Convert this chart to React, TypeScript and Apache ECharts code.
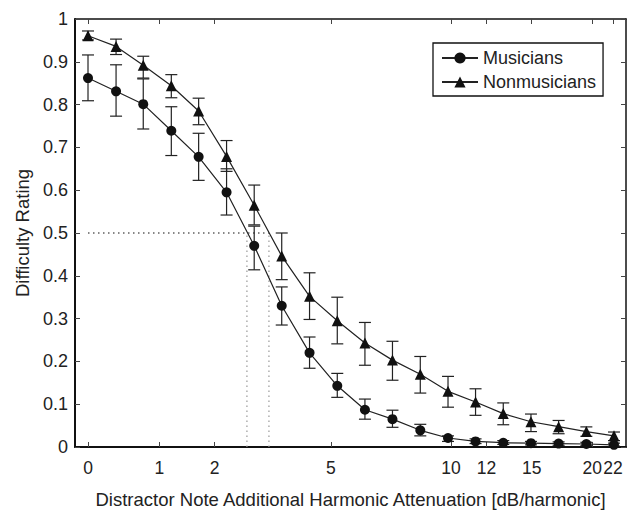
import React, { useEffect, useRef } from "react";
import * as echarts from "echarts";

// Attenuation of each stimulus step (dB/harmonic)
const attenuationDb = [0, 0.36, 0.75, 1.2, 1.69, 2.25, 2.87, 3.56, 4.34, 5.21, 6.18, 7.26, 8.48, 9.84, 11.35, 13.05, 14.95, 17.07, 19.45, 22.1];

const musiciansMean = [0.862, 0.831, 0.801, 0.739, 0.678, 0.595, 0.47, 0.33, 0.22, 0.143, 0.087, 0.065, 0.039, 0.021, 0.013, 0.01, 0.009, 0.008, 0.007, 0.005];
const musiciansLow = [0.809, 0.773, 0.743, 0.681, 0.623, 0.542, 0.414, 0.285, 0.184, 0.116, 0.065, 0.046, 0.026, 0.013, 0.008, 0.006, 0.005, 0.004, 0.003, 0.002];
const musiciansHigh = [0.916, 0.893, 0.86, 0.795, 0.733, 0.65, 0.516, 0.374, 0.257, 0.172, 0.112, 0.086, 0.053, 0.026, 0.019, 0.015, 0.013, 0.012, 0.011, 0.009];

const nonmusiciansMean = [0.961, 0.936, 0.892, 0.844, 0.785, 0.679, 0.565, 0.446, 0.352, 0.295, 0.243, 0.203, 0.17, 0.13, 0.105, 0.078, 0.059, 0.0475, 0.036, 0.026];
const nonmusiciansLow = [0.951, 0.917, 0.862, 0.816, 0.753, 0.644, 0.519, 0.391, 0.298, 0.241, 0.191, 0.156, 0.126, 0.093, 0.074, 0.052, 0.036, 0.031, 0.025, 0.015];
const nonmusiciansHigh = [0.972, 0.953, 0.913, 0.87, 0.815, 0.716, 0.612, 0.5, 0.407, 0.35, 0.291, 0.247, 0.2115, 0.165, 0.136, 0.103, 0.077, 0.062, 0.047, 0.035];

const xTickLabels = [0, 1, 2, 5, 10, 12, 15, 20, 22];
const yTickValues = [0, 0.1, 0.2, 0.3, 0.4, 0.5, 0.6, 0.7, 0.8, 0.9, 1];

// 50% thresholds (dB/harmonic)
const thresholdLevel = 0.5;
const thresholdMusicians = 2.7;
const thresholdNonmusicians = 3.23;

// axis scale: ln(x + 3)
const OFFSET = 3;
const tf = (x: number) => Math.log(x + OFFSET);
const X_MIN = 1.0461;
const X_MAX = 3.2714;

const FONT = "'Liberation Sans', Arial, Helvetica, sans-serif";

function errorBarSeries(low: number[], high: number[]) {
  return {
    type: "custom",
    silent: true,
    z: 2,
    data: attenuationDb.map((x, i) => [tf(x), low[i], high[i]]),
    encode: { x: 0, y: [1, 2] },
    renderItem: (params: any, api: any) => {
      const lo = api.coord([api.value(0), api.value(1)]);
      const hi = api.coord([api.value(0), api.value(2)]);
      const hw = 6;
      const style = { stroke: "#222", lineWidth: 1.2 };
      return {
        type: "group",
        children: [
          { type: "line", shape: { x1: lo[0], y1: lo[1], x2: hi[0], y2: hi[1] }, style },
          { type: "line", shape: { x1: lo[0] - hw, y1: lo[1], x2: lo[0] + hw, y2: lo[1] }, style },
          { type: "line", shape: { x1: hi[0] - hw, y1: hi[1], x2: hi[0] + hw, y2: hi[1] }, style },
        ],
      };
    },
  };
}

export default function App() {
  const ref = useRef<HTMLDivElement>(null);
  useEffect(() => {
    if (!ref.current) return;
    const chart = echarts.init(ref.current, null, { renderer: "svg" });
    const tickT = xTickLabels.map(tf);
    const labelFor = (v: number) => {
      let best = 0;
      let bd = Infinity;
      tickT.forEach((t, i) => {
        const d = Math.abs(t - v);
        if (d < bd) {
          bd = d;
          best = i;
        }
      });
      return String(xTickLabels[best]);
    };
    const tickStyle = { inside: true, length: 5, lineStyle: { color: "#444", width: 1 } };
    chart.setOption({
      animation: false,
      textStyle: { fontFamily: FONT },
      grid: { left: 75, top: 19, right: 7, bottom: 61, containLabel: false },
      legend: {
        data: ["Musicians", "Nonmusicians"],
        orient: "vertical",
        left: 433,
        top: 43,
        padding: [6, 7, 5, 8],
        itemWidth: 36,
        itemHeight: 14,
        itemGap: 6,
        borderColor: "#111",
        borderWidth: 1.3,
        backgroundColor: "#fff",
        textStyle: { fontFamily: FONT, fontSize: 18, color: "#222", lineHeight: 18 },
      },
      xAxis: [
        {
          type: "value",
          min: X_MIN,
          max: X_MAX,
          position: "bottom",
          name: "Distractor Note Additional Harmonic Attenuation [dB/harmonic]",
          nameLocation: "middle",
          nameGap: 43,
          nameTextStyle: { fontFamily: FONT, fontSize: 18.5, color: "#222" },
          axisLine: { show: true, onZero: false, lineStyle: { color: "#111", width: 2 } },
          axisTick: { ...tickStyle, customValues: tickT },
          axisLabel: {
            customValues: tickT,
            formatter: (v: number) => labelFor(v),
            fontFamily: FONT,
            fontSize: 17.5,
            color: "#222",
            margin: 12,
          },
          splitLine: { show: false },
        },
        {
          type: "value",
          min: X_MIN,
          max: X_MAX,
          position: "top",
          axisLine: { show: true, onZero: false, lineStyle: { color: "#111", width: 1.5 } },
          axisTick: { ...tickStyle, customValues: tickT },
          axisLabel: { show: false },
          splitLine: { show: false },
        },
      ],
      yAxis: [
        {
          type: "value",
          min: 0,
          max: 1,
          interval: 0.1,
          position: "left",
          name: "Difficulty Rating",
          nameLocation: "middle",
          nameGap: 42,
          nameTextStyle: { fontFamily: FONT, fontSize: 18.5, color: "#222" },
          axisLine: { show: true, onZero: false, lineStyle: { color: "#111", width: 2 } },
          axisTick: tickStyle,
          axisLabel: {
            fontFamily: FONT,
            fontSize: 18,
            color: "#222",
            margin: 7,
            formatter: (v: number) => {
              const m = yTickValues.find((t) => Math.abs(t - v) < 1e-6);
              return m === 0 || m === 1 ? String(m) : (m ?? v).toFixed(1);
            },
          },
          splitLine: { show: false },
        },
        {
          type: "value",
          min: 0,
          max: 1,
          interval: 0.1,
          position: "right",
          axisLine: { show: true, onZero: false, lineStyle: { color: "#111", width: 1.5 } },
          axisTick: tickStyle,
          axisLabel: { show: false },
          splitLine: { show: false },
        },
      ],
      series: [
        {
          type: "line",
          silent: true,
          symbol: "none",
          z: 1,
          lineStyle: { color: "#111", width: 1.2, type: [1.5, 3.5] },
          data: [
            [tf(0), thresholdLevel],
            [tf(thresholdNonmusicians), thresholdLevel],
          ],
        },
        {
          type: "line",
          silent: true,
          symbol: "none",
          z: 1,
          lineStyle: { color: "#999", width: 1.2, type: [1.5, 3.5] },
          data: [
            [tf(thresholdMusicians), 0],
            [tf(thresholdMusicians), thresholdLevel],
          ],
        },
        {
          type: "line",
          silent: true,
          symbol: "none",
          z: 1,
          lineStyle: { color: "#999", width: 1.2, type: [1.5, 3.5] },
          data: [
            [tf(thresholdNonmusicians), 0],
            [tf(thresholdNonmusicians), thresholdLevel],
          ],
        },
        errorBarSeries(musiciansLow, musiciansHigh),
        errorBarSeries(nonmusiciansLow, nonmusiciansHigh),
        {
          name: "Musicians",
          type: "line",
          z: 3,
          symbol: "circle",
          symbolSize: 10,
          itemStyle: { color: "#111" },
          lineStyle: { color: "#222", width: 1.2 },
          data: attenuationDb.map((x, i) => [tf(x), musiciansMean[i]]),
        },
        {
          name: "Nonmusicians",
          type: "line",
          z: 3,
          symbol: "triangle",
          symbolSize: 11,
          itemStyle: { color: "#111" },
          lineStyle: { color: "#222", width: 1.2 },
          data: attenuationDb.map((x, i) => [tf(x), nonmusiciansMean[i]]),
        },
      ],
    });
    return () => chart.dispose();
  }, []);
  return (
    <div
      ref={ref}
      style={{ position: "absolute", left: 0, top: 0, width: 633, height: 514 }}
    />
  );
}
